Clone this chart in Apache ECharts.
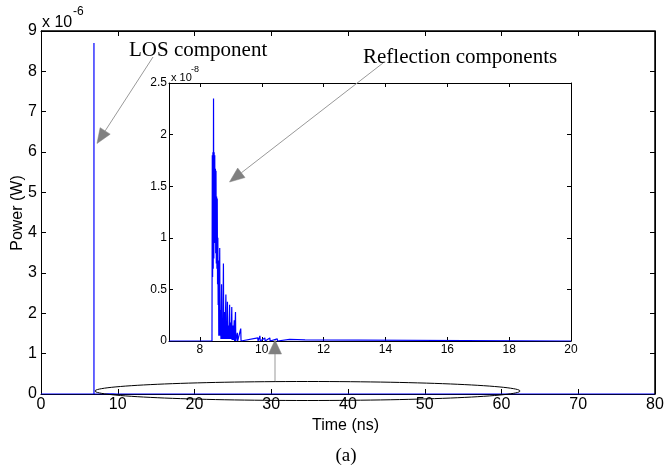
<!DOCTYPE html>
<html>
<head>
<meta charset="utf-8">
<script src="https://cdn.jsdelivr.net/npm/echarts@6/dist/echarts.min.js"></script>
<style>
html,body{margin:0;padding:0;background:#fff;}
#chart{width:665px;height:470px;background:#fff;}
</style>
</head>
<body>
<div id="chart"></div>
<script>
// ---- data ----
// LOS component (time in ns, power in 1e-6 W)
const losTime = 6.9;
const losPower = 8.7;
// Reflection components (time in ns, power in 1e-8 W)
const reflTime = [8.39, 8.40, 8.41, 8.42, 8.43, 8.44, 8.45, 8.46, 8.47, 8.48, 8.49, 8.50, 8.51, 8.52, 8.53, 8.54, 8.55, 8.56, 8.57, 8.58, 8.59, 8.60,
  8.61, 8.63, 8.64, 8.65, 8.67, 8.68, 8.70, 8.71, 8.73, 8.74, 8.76, 8.77, 8.80, 8.81, 8.84, 8.85, 8.87, 8.88, 8.89, 8.90,
  8.93, 8.94, 8.96, 8.97, 9.00, 9.01, 9.03, 9.04, 9.07, 9.08, 9.11, 9.12, 9.15, 9.16, 9.21, 9.22, 9.32, 9.33,
  9.87, 9.88, 9.94, 9.95, 10.10, 10.11, 10.26, 10.27, 10.50, 10.51, 10.90, 10.91, 11.40, 11.41];
const reflPower = [0, 1.80, 0.62, 1.83, 0.70, 2.35, 0.80, 1.83, 1.00, 1.80, 0.95, 1.67, 0.85, 1.65, 0.75, 1.40, 0.70, 1.38, 0.55, 1.00, 0.35, 0.78,
  0.05, 0.60, 0.90, 0.05, 0.30, 0.02, 0.55, 0.02, 0.20, 0.02, 0.75, 0.02, 0.28, 0.02, 0.45, 0.02, 0.18, 0.02, 0.38, 0.02,
  0.15, 0.02, 0.35, 0.02, 0.18, 0.02, 0.33, 0.01, 0.15, 0.01, 0.20, 0, 0.28, 0, 0.08, 0, 0.12, 0,
  0.03, 0, 0.05, 0, 0.03, 0, 0.03, 0, 0.02, 0, 0.015, 0, 0.01, 0];
// axis ticks
const mainXTicks = [0, 10, 20, 30, 40, 50, 60, 70, 80];
const mainYTicks = [0, 1, 2, 3, 4, 5, 6, 7, 8, 9];
const insetXTicks = [8, 10, 12, 14, 16, 18, 20];
const insetYTicks = [0, 0.5, 1, 1.5, 2, 2.5];

// ---- build series data ----
const mainData = [[0, 0], [losTime, 0], [losTime, losPower], [losTime, 0]];
for (let i = 0; i < reflTime.length; i++) mainData.push([reflTime[i], reflPower[i] / 100]);
mainData.push([80, 0]);

const insetData = [[7, 0]];
for (let i = 0; i < reflTime.length; i++) insetData.push([reflTime[i], reflPower[i]]);
insetData.push([20, 0]);

// frame of the main axes (top and right sides), from the axis limits
const xMin = mainXTicks[0], xMax = mainXTicks[mainXTicks.length - 1];
const yMin = mainYTicks[0], yMax = mainYTicks[mainYTicks.length - 1];
const frameData = [[xMin, yMax], [xMax, yMax], [xMax, yMin]];

const SANS = '"Liberation Sans", Arial, sans-serif';
const SERIF = '"Liberation Serif", "Times New Roman", serif';
const BLUE = '#0000ff';

function axisBase(extra, lineW) {
  return Object.assign({
    type: 'value',
    show: true,
    z: 6,
    axisLine: { show: true, onZero: false, lineStyle: { color: '#000', width: lineW || 1 } },
    splitLine: { show: false },
    axisTick: { show: true, inside: true, length: 5, lineStyle: { color: '#000' } },
  }, extra);
}

function arrow(x1, y1, x2, y2, headLen, headW) {
  const dx = x2 - x1, dy = y2 - y1;
  const L = Math.sqrt(dx * dx + dy * dy);
  const ux = dx / L, uy = dy / L;
  const bx = x2 - ux * headLen, by = y2 - uy * headLen;
  const px = -uy * headW / 2, py = ux * headW / 2;
  return [
    { type: 'line', shape: { x1: x1, y1: y1, x2: bx, y2: by }, style: { stroke: '#999', lineWidth: 1 }, z: 100 },
    { type: 'polygon', shape: { points: [[x2, y2], [bx + px, by + py], [bx - px, by - py]] }, style: { fill: '#808080', stroke: '#808080', lineWidth: 0.5 }, z: 100 }
  ];
}

function txt(x, y, text, font, align, vAlign, rotation) {
  return {
    type: 'text', x: x, y: y, rotation: rotation || 0, z: 100,
    style: { text: text, font: font, fill: '#000', textAlign: align, align: align, textVerticalAlign: vAlign, verticalAlign: vAlign }
  };
}

const chart = echarts.init(document.getElementById('chart'), null, { renderer: 'canvas' });

const option = {
  animation: false,
  grid: [
    { left: 41, top: 31, width: 614, height: 363, show: false, outerBoundsMode: 'none', containLabel: false },
    { left: 169, top: 83, width: 402, height: 258, show: true, backgroundColor: '#fff', borderWidth: 0, z: 5, outerBoundsMode: 'none', containLabel: false }
  ],
  xAxis: [
    axisBase({ gridIndex: 0, position: 'bottom', min: 0, max: 80, interval: 10,
      axisLabel: { show: true, margin: 3, fontSize: 16, fontFamily: SANS, color: '#000' } }),
    axisBase({ gridIndex: 0, position: 'top', min: 0, max: 80, interval: 10, axisLabel: { show: false } }),
    axisBase({ gridIndex: 1, position: 'bottom', min: 7, max: 20, interval: 1, z: 7,
      axisTick: { show: true, inside: true, length: 4, customValues: insetXTicks, lineStyle: { color: '#000' } },
      axisLabel: { show: true, margin: 3, fontSize: 12, fontFamily: SANS, color: '#000', customValues: insetXTicks } }),
    axisBase({ gridIndex: 1, position: 'top', min: 7, max: 20, interval: 1, z: 7,
      axisTick: { show: true, inside: true, length: 4, customValues: insetXTicks, lineStyle: { color: '#000' } },
      axisLabel: { show: false } })
  ],
  yAxis: [
    axisBase({ gridIndex: 0, position: 'left', min: 0, max: 9, interval: 1,
      axisLabel: { show: true, margin: 4, fontSize: 16, fontFamily: SANS, color: '#000' } }),
    axisBase({ gridIndex: 0, position: 'right', min: 0, max: 9, interval: 1, axisLabel: { show: false } }),
    axisBase({ gridIndex: 1, position: 'left', min: 0, max: 2.5, interval: 0.5, z: 7,
      axisTick: { show: true, inside: true, length: 4, lineStyle: { color: '#000' } },
      axisLabel: { show: true, margin: 2, fontSize: 12, fontFamily: SANS, color: '#000' } }),
    axisBase({ gridIndex: 1, position: 'right', min: 0, max: 2.5, interval: 0.5, z: 7,
      axisTick: { show: true, inside: true, length: 4, lineStyle: { color: '#000' } },
      axisLabel: { show: false } })
  ],
  series: [
    { type: 'line', xAxisIndex: 0, yAxisIndex: 0, data: frameData, showSymbol: false, symbol: 'none', clip: false, silent: true,
      lineStyle: { color: '#000', width: 1.5 }, z: 9 },
    { type: 'line', xAxisIndex: 0, yAxisIndex: 0, data: mainData, showSymbol: false, symbol: 'none',
      lineStyle: { color: BLUE, width: 1.2 }, z: 8 },
    { type: 'line', xAxisIndex: 2, yAxisIndex: 2, data: insetData, showSymbol: false, symbol: 'none',
      lineStyle: { color: BLUE, width: 1.2 }, z: 8 }
  ],
  graphic: [].concat(
    [
      txt(42, 23, 'x 10', '16px ' + SANS, 'left', 'middle'),
      txt(73, 12, '-6', '12px ' + SANS, 'left', 'middle'),
      txt(171, 77.5, 'x 10', '11px ' + SANS, 'left', 'middle'),
      txt(191, 70, '-8', '9px ' + SANS, 'left', 'middle'),
      txt(18, 213, 'Power (W)', '16px ' + SANS, 'center', 'middle', Math.PI / 2),
      txt(345.5, 425.5, 'Time (ns)', '16px ' + SANS, 'center', 'middle'),
      txt(346, 456, '(a)', '19px ' + SERIF, 'center', 'middle'),
      txt(129, 50, 'LOS component', '21px ' + SERIF, 'left', 'middle'),
      txt(363, 57, 'Reflection components', '21px ' + SERIF, 'left', 'middle'),
      { type: 'ellipse', shape: { cx: 307.5, cy: 391, rx: 212.5, ry: 9.5 }, style: { fill: null, stroke: '#000', lineWidth: 1 }, z: 100 }
    ],
    arrow(153, 57, 97, 143.5, 15, 12),
    arrow(383, 63, 229.5, 182, 15, 12),
    arrow(275, 381, 275, 340, 14, 13)
  )
};
chart.setOption(option);
</script>
</body>
</html>
